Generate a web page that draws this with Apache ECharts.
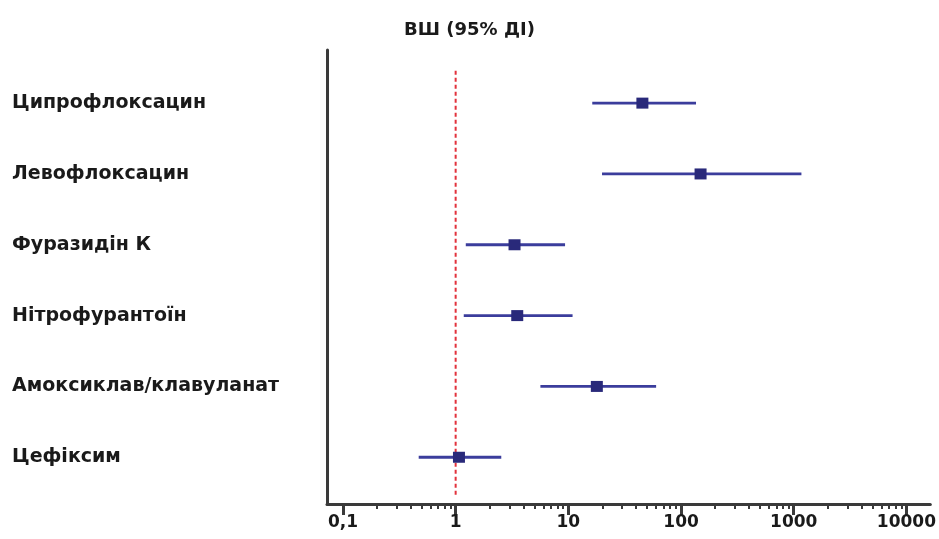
<!DOCTYPE html>
<html>
<head>
<meta charset="utf-8">
<script src="https://cdn.jsdelivr.net/npm/echarts@6/dist/echarts.min.js"></script>
<style>
html,body{margin:0;padding:0;background:#fff;}
#c{width:939px;height:539px;}
</style>
</head>
<body>
<div id="c"></div>
<script>
// ---- data ----
const drugs = ['Ципрофлоксацин','Левофлоксацин','Фуразидін К','Нітрофурантоїн','Амоксиклав/клавуланат','Цефіксим'];
const orValues = [45.4, 149, 3.33, 3.52, 17.9, 1.07];
const ciLow = [16.3, 19.9, 1.23, 1.18, 5.65, 0.47];
const ciHigh = [135.8, 1170, 9.35, 10.9, 60.1, 2.54];
const tickValues = [0.1, 1, 10, 100, 1000, 10000];
const tickLabels = ['0,1', '1', '10', '100', '1000', '10000'];
const titleText = 'ВШ (95% ДІ)';
const refValue = 1;

// ---- helpers ----
const lg = v => Math.log10(v);
const rowY = i => 5.66 - i;
const minorVals = [];
for (let d = -1; d < 4; d++) for (let k = 2; k <= 9; k++) minorVals.push(lg(k * Math.pow(10, d)));

const FONT = '"DejaVu Sans", Verdana, sans-serif';
const AXIS_COLOR = '#3a3a3a';
const TEXT_COLOR = '#1a1a1a';
const X_MIN = -1.1416, X_MAX = 4.212;

const chart = echarts.init(document.getElementById('c'), null, {renderer: 'canvas'});
chart.setOption({
  animation: false,
  backgroundColor: '#fff',
  title: {
    text: titleText, left: 'center', top: 16,
    textStyle: {fontFamily: FONT, fontWeight: 'bold', fontSize: 18, color: TEXT_COLOR}
  },
  grid: {left: 327, right: 7, top: 50, bottom: 35, containLabel: false},
  xAxis: [{
    type: 'value', min: X_MIN, max: X_MAX,
    axisLine: {show: true, onZero: false, lineStyle: {color: AXIS_COLOR, width: 3}},
    axisTick: {show: true, customValues: tickValues.map(lg), length: 11, lineStyle: {color: AXIS_COLOR, width: 3}},
    axisLabel: {
      show: true, customValues: tickValues.map(lg), margin: 10,
      formatter: v => tickLabels[Math.round(v) + 1],
      fontFamily: FONT, fontWeight: 'bold', fontSize: 17, color: TEXT_COLOR
    },
    splitLine: {show: false}
  }, {
    type: 'value', min: X_MIN, max: X_MAX, position: 'bottom',
    axisLine: {show: false},
    axisTick: {show: true, customValues: minorVals, length: 5, lineStyle: {color: AXIS_COLOR, width: 2}},
    axisLabel: {show: false},
    splitLine: {show: false}
  }],
  yAxis: {
    type: 'value', min: 0, max: 6.41,
    axisLine: {show: true, onZero: false, lineStyle: {color: AXIS_COLOR, width: 3}},
    axisTick: {show: false},
    splitLine: {show: false},
    axisLabel: {
      show: true, customValues: drugs.map((d, i) => rowY(i)), margin: 315, align: 'left',
      formatter: v => drugs[Math.round(5.66 - v)],
      fontFamily: FONT, fontWeight: 'bold', fontSize: 19, color: TEXT_COLOR
    }
  },
  series: [{
    type: 'line',
    data: [[lg(refValue), 0.13], [lg(refValue), 6.13]],
    symbol: 'none',
    lineStyle: {color: '#e2323c', width: 2, type: [4, 3]},
    silent: true, z: 1
  }, {
    type: 'custom',
    data: drugs.map((d, i) => [lg(ciLow[i]), lg(ciHigh[i]), rowY(i)]),
    renderItem: (params, api) => {
      const a = api.coord([api.value(0), api.value(2)]);
      const b = api.coord([api.value(1), api.value(2)]);
      return {type: 'line', shape: {x1: a[0], y1: a[1], x2: b[0], y2: b[1]},
        style: {stroke: '#3b3d9c', lineWidth: 2.8}};
    },
    z: 2
  }, {
    type: 'scatter',
    data: drugs.map((d, i) => [lg(orValues[i]), rowY(i)]),
    symbol: 'rect', symbolSize: [12, 11],
    itemStyle: {color: '#29297a', opacity: 1},
    z: 3
  }]
});
</script>
</body>
</html>
